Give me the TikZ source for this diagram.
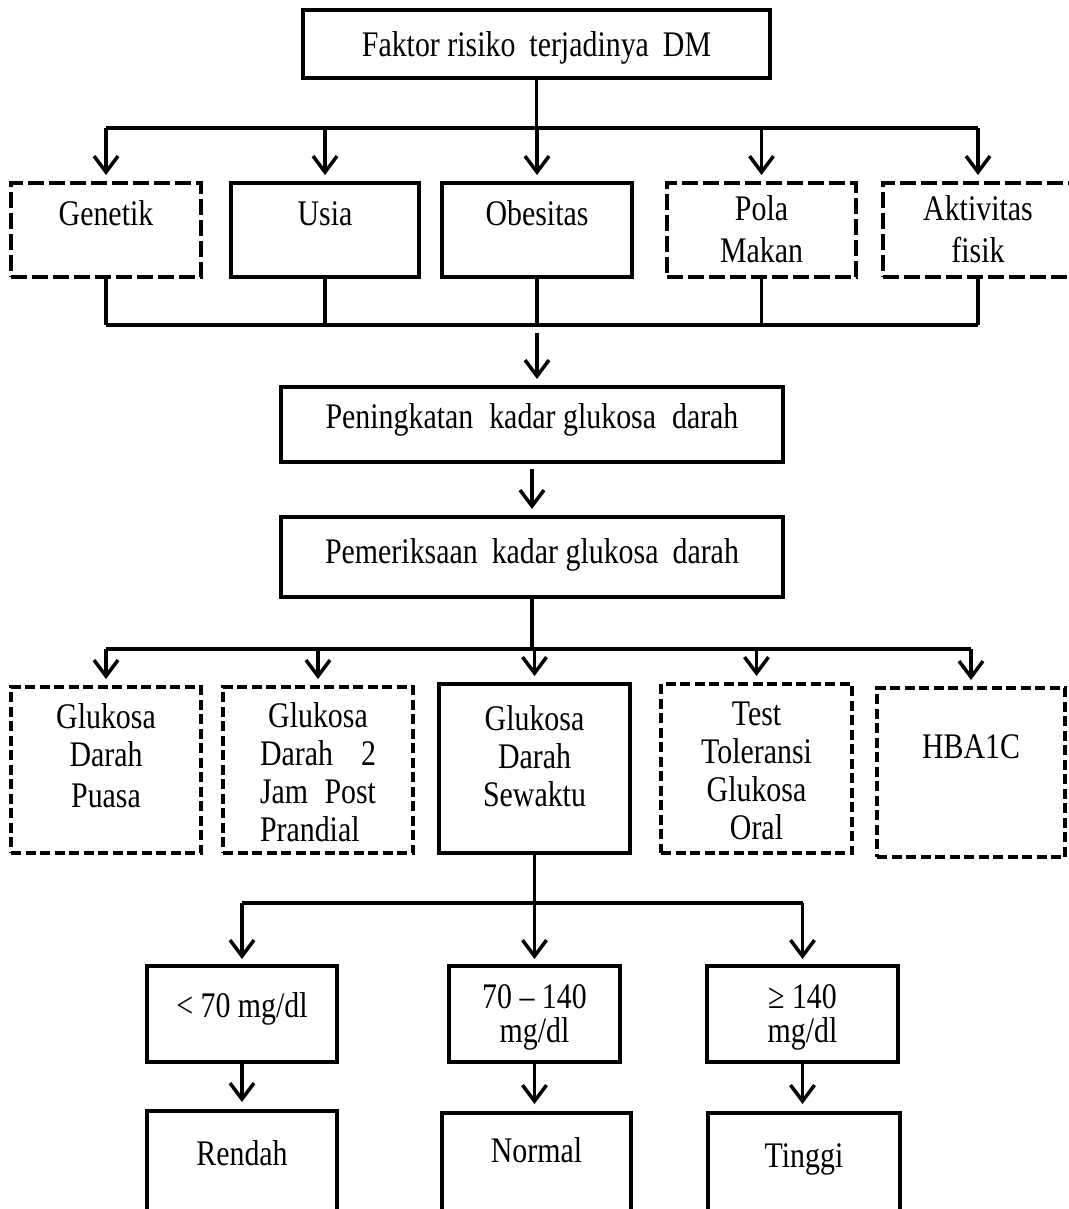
\documentclass[tikz,border=0pt]{standalone}
\usepackage{fontspec}
\setmainfont{Liberation Serif}[FakeStretch=0.83]
\usetikzlibrary{arrows.meta}
\newcommand\bxt[4]{\parbox[t][#2][t]{#1}{\centering\rule{0pt}{#3}#4}}
\tikzset{
  box/.style={draw, line width=3.5pt, inner sep=0pt, outer sep=0pt, anchor=north west,
              font=\fontsize{36}{38}\selectfont},
  dboxa/.style={box, dash pattern=on 16pt off 5pt},
  dboxb/.style={box, dash pattern=on 10pt off 4.5pt},
  ln/.style={line width=3.5pt},
  arr/.style={line width=3.5pt, -{Straight Barb[length=16pt,width=24pt]}, shorten >=8pt},
}
\begin{document}
\begin{tikzpicture}[x=1pt,y=-1pt]
\useasboundingbox (0,0) rectangle (1068,1209);
% top
\node[box] (top) at (303,10) {\bxt{467pt}{68pt}{47pt}{Faktor risiko\hspace{14pt}terjadinya\hspace{14pt}DM}};
% row 1
\node[dboxa] (gen)  at (11,183)  {\bxt{190pt}{94pt}{42pt}{Genetik}};
\node[box]   (usia) at (231,183) {\bxt{188pt}{94pt}{42pt}{Usia}};
\node[box]   (obe)  at (442,183) {\bxt{190pt}{94pt}{42pt}{Obesitas}};
\node[dboxa] (pola) at (667,183) {\bxt{189pt}{94pt}{37pt}{Pola\\[4pt]Makan}};
\node[dboxa] (akt)  at (883,183) {\bxt{190pt}{94pt}{37pt}{Aktivitas\\[4pt]fisik}};
% middle
\node[box] (pen) at (281,387) {\bxt{502pt}{75pt}{41pt}{Peningkatan\hspace{16pt}kadar glukosa\hspace{16pt}darah}};
\node[box] (pem) at (281,517) {\bxt{502pt}{80pt}{46pt}{Pemeriksaan\hspace{14pt}kadar glukosa\hspace{14pt}darah}};
% row 2
\node[dboxb] (gdp) at (11,687)  {\bxt{190pt}{166pt}{41pt}{Glukosa\\Darah\\[3pt]Puasa}};
\node[dboxb] (gd2) at (223,687) {\bxt{190pt}{166pt}{40pt}{\makebox[116pt][c]{Glukosa}\\\makebox[116pt][s]{Darah\hfill 2}\\\makebox[116pt][s]{Jam\hfill Post}\\\makebox[116pt][l]{Prandial}}};
\node[box]   (gds) at (439,684) {\bxt{191pt}{169pt}{46pt}{Glukosa\\Darah\\Sewaktu}};
\node[dboxb] (ttg) at (661,684) {\bxt{191pt}{169pt}{41pt}{Test\\Toleransi\\Glukosa\\Oral}};
\node[dboxb] (hba) at (877,688) {\bxt{188pt}{169pt}{70pt}{HBA1C}};
% row 3
\node[box] (r1) at (147,966) {\bxt{190pt}{96pt}{51pt}{< 70 mg/dl}};
\node[box] (r2) at (449,966) {\bxt{171pt}{96pt}{42pt}{70 – 140\\[-4pt]mg/dl}};
\node[box] (r3) at (707,966) {\bxt{191pt}{96pt}{42pt}{≥ 140\\[-4pt]mg/dl}};
% row 4 (cut by the page edge)
\node[box] (q1) at (147,1111) {\bxt{190pt}{120pt}{54pt}{Rendah}};
\node[box] (q2) at (442,1113) {\bxt{189pt}{120pt}{49pt}{Normal}};
\node[box] (q3) at (708,1113) {\bxt{192pt}{120pt}{54pt}{Tinggi}};

% connectors: top -> row 1
\path (top.south) ++(0,50) coordinate (s1);
\draw[ln] (top.south) -- (s1);
\draw[ln] (s1 -| gen) -- (s1 -| akt);
\foreach \n in {gen,usia,obe,pola,akt} \draw[arr] (s1 -| \n) -- (\n);
% row 1 -> pen
\path (gen.south) ++(0,48) coordinate (j1);
\foreach \n in {gen,usia,obe,pola,akt} \draw[ln] (\n) -- (j1 -| \n);
\draw[ln] (j1 -| gen) -- (j1 -| akt);
\path (j1 -| obe) coordinate (j1m);
\draw[arr, shorten <=8pt] (j1m) -- (j1m |- pen.north);
\draw[arr, shorten <=7pt] (pen) -- (pem);
% pem -> row 2
\path (pem.south) ++(0,52) coordinate (s2);
\draw[ln] (pem.south) -- (s2);
\draw[ln] (s2 -| gdp) -- (s2 -| hba);
\foreach \n in {gdp,gd2,gds,ttg,hba} \draw[arr] (s2 -| \n) -- (\n);
% gds -> row 3
\path (gds.south) ++(0,50) coordinate (s3);
\draw[ln] (gds.south) -- (s3);
\draw[ln] (s3 -| r1) -- (s3 -| r3);
\foreach \n in {r1,r2,r3} \draw[arr, shorten >=7pt] (s3 -| \n) -- (\n);
% row 3 -> row 4
\draw[arr, shorten >=9pt] (r1) -- (q1);
\draw[arr, shorten >=9pt] (r2.south) -- (r2.south |- q2.north);
\draw[arr, shorten >=9pt] (r3.south) -- (r3.south |- q3.north);
\end{tikzpicture}
\end{document}
